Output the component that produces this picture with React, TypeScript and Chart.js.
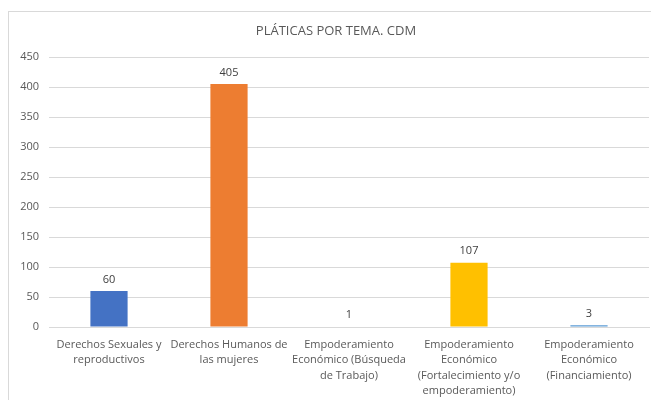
import React, { useEffect, useRef } from "react";
import { Chart, registerables } from "chart.js";

Chart.register(...registerables);

const categories: string[][] = [
  ["Derechos Sexuales y", "reproductivos"],
  ["Derechos Humanos de", "las mujeres"],
  ["Empoderamiento", "Económico (Búsqueda", "de Trabajo)"],
  ["Empoderamiento", "Económico", "(Fortalecimiento y/o", "empoderamiento)"],
  ["Empoderamiento", "Económico", "(Financiamiento)"],
];
const values: number[] = [60, 405, 1, 107, 3];
const barColors: string[] = ["#4472C4", "#ED7D31", "#A5A5A5", "#FFC000", "#5B9BD5"];
const title = "PLÁTICAS POR TEMA. CDM";
const yMax = 450;
const yStep = 50;

const FONT = "'Open Sans', sans-serif";

export default function App() {
  const ref = useRef<HTMLCanvasElement | null>(null);
  useEffect(() => {
    document.body.style.margin = "0";
    const canvas = ref.current!;
    const framePlugin = {
      id: "frame",
      beforeDraw(chart: any) {
        const ctx = chart.ctx;
        ctx.save();
        ctx.fillStyle = "#ffffff";
        ctx.fillRect(0, 0, chart.width, chart.height);
        ctx.strokeStyle = "#D9D9D9";
        ctx.lineWidth = 1;
        ctx.strokeRect(8.5, 11.5, chart.width + 20, chart.height + 20);
        ctx.fillStyle = "#595959";
        ctx.font = `13px ${FONT}`;
        ctx.textAlign = "center";
        ctx.textBaseline = "middle";
        ctx.fillText(title, 336, 31);
        ctx.restore();
      },
      afterDatasetsDraw(chart: any) {
        const ctx = chart.ctx;
        const meta = chart.getDatasetMeta(0);
        ctx.save();
        ctx.fillStyle = "#404040";
        ctx.font = `11px ${FONT}`;
        ctx.textAlign = "center";
        ctx.textBaseline = "bottom";
        meta.data.forEach((el: any, i: number) => {
          ctx.fillText(String(values[i]), el.x, el.y - 6);
        });
        ctx.restore();
      },
    };
    const chart = new Chart(canvas, {
      type: "bar",
      data: {
        labels: categories,
        datasets: [
          {
            data: values,
            backgroundColor: barColors,
            borderWidth: 0,
            categoryPercentage: 1,
            barPercentage: 0.31,
          },
        ],
      },
      options: {
        animation: false,
        responsive: false,
        maintainAspectRatio: false,
        layout: { padding: { top: 57, right: 2, left: 0, bottom: 0 } },
        plugins: {
          legend: { display: false },
          tooltip: { enabled: false },
          title: { display: false },
        },
        scales: {
          x: {
            grid: { display: false, drawTicks: false },
            border: { display: true, color: "#D9D9D9" },
            ticks: {
              color: "#595959",
              font: { family: FONT, size: 11, lineHeight: 1.4 },
              padding: 10,
              maxRotation: 0,
              autoSkip: false,
            },
            afterFit(scale: any) {
              scale.height = 73;
            },
          },
          y: {
            min: 0,
            max: yMax,
            grid: { color: "#D9D9D9", drawTicks: false },
            border: { display: false },
            ticks: {
              stepSize: yStep,
              color: "#595959",
              font: { family: FONT, size: 11 },
              padding: 10,
            },
            afterFit(scale: any) {
              scale.width = 49;
            },
          },
        },
      },
      plugins: [framePlugin],
    });
    return () => chart.destroy();
  }, []);
  return (
    <div style={{ position: "absolute", left: 0, top: 0, width: 651, height: 400 }}>
      <canvas ref={ref} width={651} height={400} style={{ width: 651, height: 400 }} />
    </div>
  );
}
